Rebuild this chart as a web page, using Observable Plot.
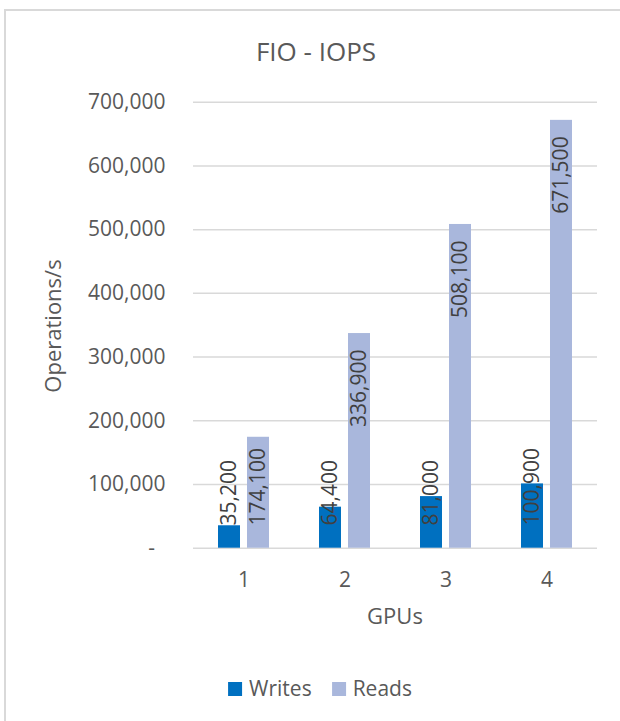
<!DOCTYPE html>
<html>
<head>
<meta charset="utf-8">
<script src="https://cdn.jsdelivr.net/npm/d3@7"></script>
<script src="https://cdn.jsdelivr.net/npm/@observablehq/plot@0.6"></script>
<style>
  html, body { margin: 0; padding: 0; background: #fff; overflow: hidden; width: 620px; height: 721px; }
  body { position: relative; font-family: "Open Sans", sans-serif; color: #595959; }
  #frame { position: absolute; left: 4px; top: 9px; width: 660px; height: 760px; border: 2px solid #d9d9d9; box-sizing: border-box; }
  #chart { position: absolute; left: 0; top: 0; }
  .title { position: absolute; left: 316px; top: 38px; transform: translateX(-50%); font-size: 26px; line-height: 1; white-space: nowrap; }
  .ytitle { position: absolute; left: 52px; top: 326px; transform: translate(-50%, -50%) rotate(-90deg); font-size: 22px; line-height: 1; white-space: nowrap; }
  .xtitle { position: absolute; left: 395px; top: 604px; transform: translateX(-50%); font-size: 22px; line-height: 1; white-space: nowrap; }
  .legend { position: absolute; left: 320px; top: 678px; transform: translateX(-50%); display: flex; align-items: center; gap: 20px; font-size: 21px; line-height: 1; white-space: nowrap; }
  .legend .item { display: flex; align-items: center; gap: 7px; }
  .legend .swatch { width: 14px; height: 14px; display: inline-block; }
</style>
</head>
<body>
<div id="frame"></div>
<div id="chart"></div>
<div class="title">FIO - IOPS</div>
<div class="ytitle">Operations/s</div>
<div class="xtitle">GPUs</div>
<div class="legend" id="legend"></div>
<script>
// GPU counts on the x axis and the two measured series
const gpus = ["1", "2", "3", "4"];
const seriesNames = ["Writes", "Reads"];
const writes = [35200, 64400, 81000, 100900];
const reads = [174100, 336900, 508100, 671500];
const yTicks = [0, 100000, 200000, 300000, 400000, 500000, 600000, 700000];
const seriesColors = ["#0070C0", "#A9B7DC"];

const rows = gpus.flatMap((g, i) => [
  {gpu: g, series: "Writes", value: writes[i]},
  {gpu: g, series: "Reads", value: reads[i]}
]);

const comma = d3.format(",");
// accounting style: zero shows as a dash
const tickFormat = d => d === 0 ? "-\u2002" : comma(d);

// tall bars carry their label just inside the top, short ones above the baseline
const topLabelMin = 300000;
const topLabels = rows.filter(d => d.value >= topLabelMin);
const baseLabels = rows.filter(d => d.value < topLabelMin);

const H = 640;
const chart = Plot.plot({
  width: 620,
  height: H,
  marginTop: 101.7,
  marginBottom: H - 547.7,
  marginLeft: 192,
  marginRight: 22,
  style: {fontFamily: "Open Sans", fontSize: "21px", color: "#595959", background: "transparent", overflow: "visible"},
  fx: {domain: gpus, padding: 0, label: null},
  x: {domain: seriesNames, paddingInner: 0.228, paddingOuter: 0.84, axis: null},
  y: {domain: [0, 700000], label: null},
  color: {domain: seriesNames, range: seriesColors},
  marks: [
    Plot.gridY(yTicks, {stroke: "#d9d9d9", strokeOpacity: 1, strokeWidth: 1.5}),
    Plot.axisY(yTicks, {tickSize: 0, tickPadding: 28, tickFormat, fontSize: 21, label: null}),
    Plot.axisFx({anchor: "bottom", tickSize: 0, tickPadding: 24, fontSize: 21, label: null}),
    Plot.barY(rows, {fx: "gpu", x: "series", y: "value", fill: "series"}),
    Plot.text(topLabels, {
      fx: "gpu", x: "series", y: "value", text: d => comma(d.value),
      rotate: -90, textAnchor: "end", lineAnchor: "middle", dy: 16,
      fill: "#404040", fontSize: 21
    }),
    Plot.text(baseLabels, {
      fx: "gpu", x: "series", y: () => 0, text: d => comma(d.value),
      rotate: -90, textAnchor: "start", lineAnchor: "middle", dy: -22.7,
      fill: "#404040", fontSize: 21
    })
  ]
});
document.getElementById("chart").appendChild(chart);

// legend swatches in series order
const legend = document.getElementById("legend");
seriesNames.forEach((name, i) => {
  const item = document.createElement("span");
  item.className = "item";
  const sw = document.createElement("span");
  sw.className = "swatch";
  sw.style.background = seriesColors[i];
  const label = document.createElement("span");
  label.textContent = name;
  item.append(sw, label);
  legend.appendChild(item);
});
</script>
</body>
</html>
